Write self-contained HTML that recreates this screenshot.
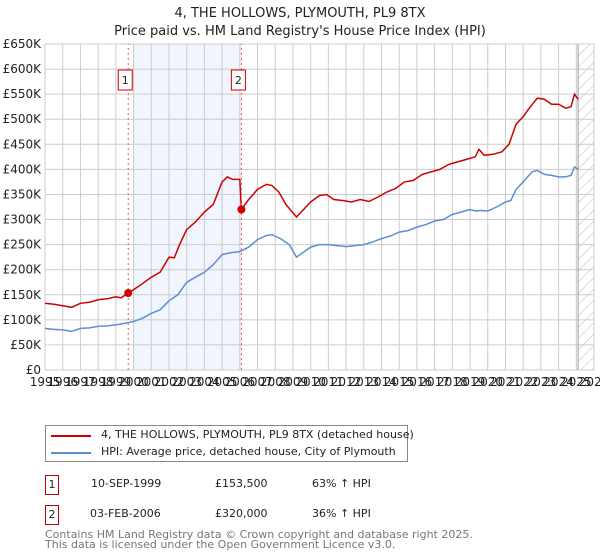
<!DOCTYPE html>
<html><head><meta charset="utf-8"><style>
body{margin:0;background:#fff;font-family:"DejaVu Sans","Liberation Sans",sans-serif;}
#wrap{position:relative;width:600px;height:560px;overflow:hidden}
.t{position:absolute;font-size:12px;color:#222;white-space:nowrap}
</style></head><body><div id="wrap">
<svg id="svg" width="600" height="420" style="position:absolute;left:0;top:0" font-family="DejaVu Sans, Liberation Sans, sans-serif">
<defs><pattern id="hatch" width="8" height="8" patternUnits="userSpaceOnUse" patternTransform="rotate(45)"><line x1="0" y1="0" x2="0" y2="8" stroke="#bbb" stroke-width="1"/></pattern></defs>
<text x="300" y="17" text-anchor="middle" font-size="13" fill="#222">4, THE HOLLOWS, PLYMOUTH, PL9 8TX</text>
<text x="300" y="35" text-anchor="middle" font-size="13" fill="#222">Price paid vs. HM Land Registry's House Price Index (HPI)</text>
<g id="g"></g>
</svg>
<div style="position:absolute;left:45px;top:425px;width:361px;height:35px;border:1px solid #888;background:#fff">
 <div style="position:absolute;left:5px;top:9px;width:40px;height:2px;background:#cc0000"></div>
 <div class="t" style="left:55px;top:2px;font-size:11px">4, THE HOLLOWS, PLYMOUTH, PL9 8TX (detached house)</div>
 <div style="position:absolute;left:5px;top:26px;width:40px;height:2px;background:#5b8fd1"></div>
 <div class="t" style="left:55px;top:19px;font-size:11px">HPI: Average price, detached house, City of Plymouth</div>
</div>
<div>
 <div class="t" style="left:45px;top:475px;width:12px;height:18px;border:1px solid #c00;text-align:center;line-height:17px;font-size:11px">1</div>
 <div class="t" style="left:91px;top:477px;font-size:11px">10-SEP-1999</div>
 <div class="t" style="left:215px;top:477px;font-size:11px">£153,500</div>
 <div class="t" style="left:312px;top:477px;font-size:11px">63% ↑ HPI</div>
</div>
<div>
 <div class="t" style="left:45px;top:505px;width:12px;height:18px;border:1px solid #c00;text-align:center;line-height:17px;font-size:11px">2</div>
 <div class="t" style="left:90px;top:507px;font-size:11px">03-FEB-2006</div>
 <div class="t" style="left:215px;top:507px;font-size:11px">£320,000</div>
 <div class="t" style="left:312px;top:507px;font-size:11px">36% ↑ HPI</div>
</div>
<div class="t" style="left:45px;top:530px;font-size:11px;color:#777;line-height:10px">Contains HM Land Registry data © Crown copyright and database right 2025.<br>This data is licensed under the Open Government Licence v3.0.</div>
</div>
<script>
const priceX=[1995,1995.5,1996,1996.5,1997,1997.5,1998,1998.5,1999,1999.3,1999.7,2000,2000.5,2001,2001.5,2002,2002.3,2002.6,2003,2003.5,2004,2004.5,2005,2005.3,2005.6,2006.0,2006.09,2006.5,2007,2007.5,2007.8,2008.2,2008.6,2009.2,2009.6,2010,2010.5,2010.9,2011.3,2011.8,2012.3,2012.8,2013.3,2013.8,2014.3,2014.8,2015.3,2015.8,2016.3,2016.8,2017.3,2017.8,2018.3,2018.8,2019.3,2019.5,2019.8,2020.3,2020.8,2021.2,2021.6,2022.0,2022.3,2022.8,2023.2,2023.6,2024.0,2024.4,2024.7,2024.9,2025.1];
const priceV=[133,131,128,125,133,135,140,142,146,144,153.5,160,172,185,195,225,224,250,280,295,315,330,375,385,380,380,320,340,360,370,368,355,330,305,320,335,348,350,340,338,335,340,336,345,355,362,375,378,390,395,400,410,415,420,425,440,428,430,435,450,490,505,520,542,540,530,530,522,525,550,540];
const hpiX=[1995,1995.5,1996,1996.5,1997,1997.5,1998,1998.5,1999,1999.5,2000,2000.5,2001,2001.5,2002,2002.5,2003,2003.5,2004,2004.5,2005,2005.5,2006,2006.5,2007,2007.5,2007.8,2008.3,2008.8,2009.2,2009.6,2010,2010.5,2011,2011.5,2012,2012.5,2013,2013.5,2014,2014.5,2015,2015.5,2016,2016.5,2017,2017.5,2018,2018.5,2019,2019.3,2019.6,2020,2020.5,2021,2021.3,2021.6,2022,2022.5,2022.8,2023.2,2023.6,2024,2024.4,2024.7,2024.9,2025.1];
const hpiV=[83,81,80,77,83,84,87,88,90,93,97,103,113,120,138,150,175,185,195,210,230,234,236,245,260,268,270,262,250,225,235,245,250,250,248,246,248,250,255,262,267,275,278,285,290,297,300,310,315,320,317,318,317,325,335,338,360,375,395,398,390,388,385,385,388,405,400];
const yTicks=[0,50,100,150,200,250,300,350,400,450,500,550,600,650];
const yearTicks=[1995,1996,1997,1998,1999,2000,2001,2002,2003,2004,2005,2006,2007,2008,2009,2010,2011,2012,2013,2014,2015,2016,2017,2018,2019,2020,2021,2022,2023,2024,2025,2026];
const sales=[{x:1999.7,v:153.5,n:'1'},{x:2006.09,v:320,n:'2'}];
const X=y=>45+(y-1995)*(549/31), Y=v=>370-v*(326/650);
const NS='http://www.w3.org/2000/svg', g=document.getElementById('g');
function mk(t,a,p){const e=document.createElementNS(NS,t);for(const k in a)e.setAttribute(k,a[k]);(p||g).appendChild(e);return e;}
let r=mk('rect',{x:X(2000),y:Y(650),width:X(2006.09)-X(2000),height:Y(0)-Y(650),fill:'#eef3fd',opacity:0.8});


let h=mk('rect',{x:X(2025.1),y:Y(650),width:X(2026)-X(2025.1),height:Y(0)-Y(650),fill:'url(#hatch)'});


yTicks.forEach(v=>{const l=mk('line',{x1:X(1995),x2:X(2026),y1:Y(v),y2:Y(v),stroke:'#ccc'});


const t=mk('text',{x:41,y:Y(v)+4,'text-anchor':'end','font-size':12,fill:'#222'});t.textContent=v===0?'£0':'£'+v+'K';

});
yearTicks.forEach(y=>{const l=mk('line',{x1:X(y),x2:X(y),y1:Y(0),y2:Y(650),stroke:'#ccc'});


const t=mk('text',{x:X(y),y:386,'text-anchor':'middle','font-size':12,fill:'#222'});t.textContent=y;

});
const fl=mk('line',{x1:X(2025.1),x2:X(2025.1),y1:Y(0),y2:Y(650),stroke:'#999'});


function path(xs,vs,c,n){const p=mk('path',{d:xs.map((x,i)=>(i?'L':'M')+X(x).toFixed(1)+','+Y(vs[i]).toFixed(1)).join(''),fill:'none',stroke:c,'stroke-width':1.5});

}
path(hpiX,hpiV,'#5b8fd1','hpi-line');
path(priceX,priceV,'#cc0000','price-line');
sales.forEach(s=>{const l=mk('line',{x1:X(s.x),x2:X(s.x),y1:Y(0),y2:Y(650),stroke:'#e55','stroke-dasharray':'2,3'});


const c=mk('circle',{cx:X(s.x),cy:Y(s.v),r:4,fill:'#cc0000'});


const b=mk('rect',{x:X(s.x)-10,y:70,width:14,height:20,fill:'#fff',stroke:'#c00'});


const t=mk('text',{x:X(s.x)-3,y:84,'text-anchor':'middle','font-size':11,fill:'#222'});t.textContent=s.n;

});
</script>
</body></html>
